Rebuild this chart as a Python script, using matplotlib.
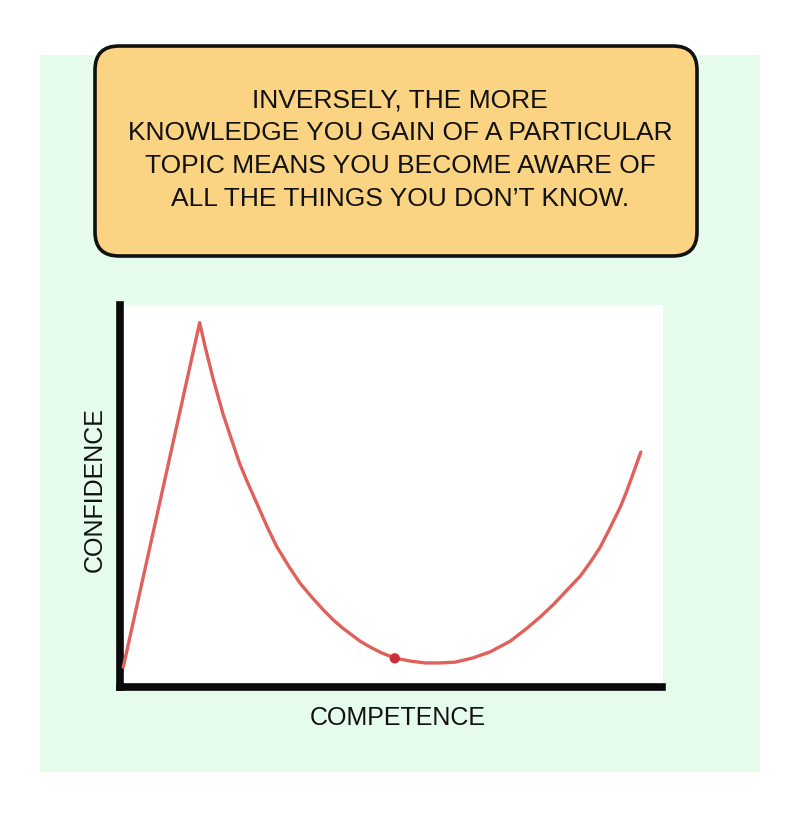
import matplotlib
matplotlib.use("Agg")
import matplotlib.pyplot as plt
from matplotlib.patches import FancyBboxPatch, Rectangle

# ---- data ----
competence = [0.6, 14.7, 15.7, 17.2, 19.0, 20.6, 22.1, 23.7, 25.3, 27.1, 28.9,
              31.1, 33.2, 35.4, 37.5, 39.4, 41.1, 42.8, 44.3, 46.1, 48.3, 50.7,
              53.5, 56.3, 59.0, 61.8, 65.1, 68.3, 72.0, 75.1, 77.5, 79.9, 82.3,
              84.9, 86.7, 88.6, 90.4, 92.3, 93.5, 94.6, 96.1]
confidence = [5.2, 95.4, 89.1, 80.6, 71.5, 64.7, 58.4, 53.0, 47.9, 42.1, 36.8,
              31.7, 27.2, 23.5, 20.2, 17.5, 15.4, 13.6, 12.0, 10.5, 8.9, 7.6,
              6.8, 6.3, 6.3, 6.5, 7.6, 9.2, 12.0, 15.4, 18.3, 21.5, 25.1,
              29.0, 32.5, 36.6, 41.6, 47.1, 51.3, 55.6, 61.5]
marker_x = [50.7]
marker_y = [7.5]

header_lines = ["INVERSELY, THE MORE",
                "KNOWLEDGE YOU GAIN OF A PARTICULAR",
                "TOPIC MEANS YOU BECOME AWARE OF",
                "ALL THE THINGS YOU DON\u2019T KNOW."]
xlabel = "COMPETENCE"
ylabel = "CONFIDENCE"

FONT = ["Liberation Sans", "DejaVu Sans"]
plt.rcParams["font.family"] = FONT

W, H = 800, 834
fig = plt.figure(figsize=(W / 100, H / 100), dpi=100)
fig.patch.set_facecolor("white")

# background overlay in pixel coordinates
bg = fig.add_axes([0, 0, 1, 1])
bg.set_xlim(0, W)
bg.set_ylim(H, 0)
bg.axis("off")
bg.add_patch(Rectangle((40, 55), 720, 717, facecolor="#e5fbeb", edgecolor="none", zorder=0))
bg.add_patch(FancyBboxPatch((95, 46), 602, 210,
                            boxstyle="round,pad=0,rounding_size=24",
                            facecolor="#fad383", edgecolor="#111111",
                            linewidth=2.6, zorder=1))
bg.add_patch(Rectangle((117, 305), 546, 383, facecolor="white", edgecolor="none", zorder=1))

line_y = [100, 133, 166, 199]
for txt, y in zip(header_lines, line_y):
    bg.text(400, y, txt, ha="center", va="center", fontsize=19, color="#111111", zorder=2)

bg.text(398, 718, xlabel, ha="center", va="center", fontsize=18, color="#111111")
bg.text(95, 490, ylabel, ha="center", va="center", fontsize=18, color="#111111",
        rotation=90)

# main chart axes
ax = fig.add_axes([120 / W, 1 - 687 / H, 542 / W, 382 / H])
ax.set_facecolor("white")
ax.patch.set_alpha(0)
ax.set_xlim(0, 100)
ax.set_ylim(0, 100)
ax.plot(competence, confidence, color="#e0615b", linewidth=2.4,
        solid_joinstyle="round", solid_capstyle="round", zorder=3)
ax.scatter(marker_x, marker_y, s=55, color="#c9303a", zorder=4, edgecolors="none")

for side in ["top", "right"]:
    ax.spines[side].set_visible(False)
for side in ["left", "bottom"]:
    ax.spines[side].set_linewidth(5.5)
    ax.spines[side].set_color("#0a0a0a")
    ax.spines[side].set_capstyle("projecting")
ax.set_xticks([])
ax.set_yticks([])

fig.savefig("out.png", dpi=100, facecolor="white")
